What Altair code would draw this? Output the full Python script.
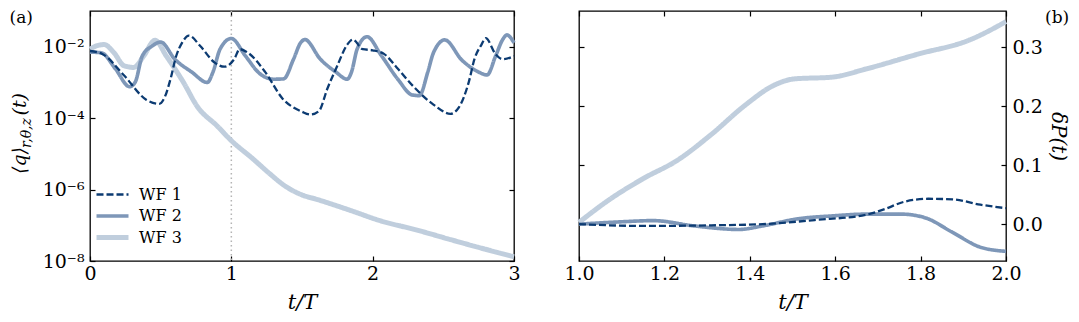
import altair as alt
import pandas as pd

FONT = "DejaVu Serif"
SERIES = ["WF 1", "WF 2", "WF 3"]
COLORS = ["#0c3b72", "#7e97b8", "#c0cedd"]
WIDTHS = [2.3, 5.0, 7.0]
DASHES = [[7, 3], [1, 0], [1, 0]]

# ---- panel (a): t/T and log10 <q>
wf1_t = [0.00, 0.09, 0.24, 0.40, 0.49, 0.53, 0.57, 0.61, 0.65, 0.70, 0.78, 0.88, 0.95, 1.02, 1.06, 1.11,
         1.24, 1.36, 1.50, 1.56, 1.62, 1.68, 1.75, 1.82, 1.86, 1.93, 2.00, 2.08, 2.17, 2.29, 2.43, 2.55,
         2.61, 2.68, 2.72, 2.77, 2.80, 2.87, 2.92, 3.00]
wf1_lq = [-2.12, -2.21, -2.80, -3.49, -3.60, -3.40, -2.90, -2.26, -1.90, -1.69, -1.98, -2.44, -2.56, -2.35, -2.07, -2.15,
          -2.71, -3.44, -3.82, -3.90, -3.80, -3.17, -2.53, -1.94, -1.80, -2.07, -2.10, -2.20, -2.58, -3.12, -3.62, -3.88,
          -3.70, -2.99, -2.35, -1.94, -1.76, -2.21, -2.35, -2.26]

wf2_t = [0.00, 0.08, 0.18, 0.28, 0.32, 0.37, 0.44, 0.50, 0.60, 0.72, 0.83, 0.87, 0.92, 1.00, 1.10, 1.20,
         1.30, 1.37, 1.44, 1.49, 1.52, 1.63, 1.74, 1.82, 1.85, 1.89, 1.96, 2.06, 2.18, 2.28, 2.33, 2.39,
         2.43, 2.51, 2.63, 2.75, 2.81, 2.87, 2.92, 2.95, 3.00]
wf2_lq = [-2.15, -2.17, -2.62, -3.12, -2.99, -2.26, -1.98, -1.87, -2.35, -2.71, -3.00, -2.71, -2.07, -1.77, -2.26, -2.75,
          -2.91, -2.90, -2.35, -1.89, -1.80, -2.35, -2.71, -2.91, -2.71, -2.07, -1.72, -2.24, -2.92, -3.35, -3.37, -2.71,
          -2.17, -1.81, -2.37, -2.71, -2.79, -2.26, -1.80, -1.67, -1.89]

wf3_t = [0.00, 0.05, 0.10, 0.17, 0.24, 0.31, 0.38, 0.46, 0.54, 0.66, 0.76, 0.90, 1.00, 1.15, 1.27, 1.38,
         1.50, 1.61, 1.84, 2.06, 2.30, 2.55, 2.75, 3.00]
wf3_lq = [-2.07, -1.97, -1.94, -2.17, -2.53, -2.58, -2.26, -1.82, -2.26, -2.99, -3.68, -4.22, -4.63, -5.13, -5.55, -5.90,
          -6.15, -6.28, -6.58, -6.88, -7.12, -7.40, -7.62, -7.88]

# ---- panel (b): t/T and delta P
wf1_tb = [1.00, 1.15, 1.31, 1.43, 1.552, 1.673, 1.714, 1.762, 1.818, 1.875, 1.94, 2.00]
wf1_dp = [0.000, -0.003, -0.002, 0.000, 0.007, 0.016, 0.025, 0.038, 0.043, 0.042, 0.033, 0.027]
wf2_tb = [1.00, 1.10, 1.174, 1.27, 1.375, 1.43, 1.512, 1.593, 1.673, 1.754, 1.81, 1.875, 1.94, 2.00]
wf2_dp = [0.000, 0.004, 0.006, -0.003, -0.009, -0.003, 0.009, 0.014, 0.017, 0.017, 0.011, -0.014, -0.039, -0.046]
wf3_tb = [1.00, 1.07, 1.15, 1.23, 1.31, 1.39, 1.456, 1.504, 1.593, 1.673, 1.794, 1.915, 2.00]
wf3_dp = [0.003, 0.041, 0.077, 0.108, 0.152, 0.202, 0.235, 0.246, 0.249, 0.263, 0.288, 0.312, 0.343]

rows_a, rows_b = [], []
for name, ts, ls in [("WF 3", wf3_t, wf3_lq), ("WF 2", wf2_t, wf2_lq), ("WF 1", wf1_t, wf1_lq)]:
    for i, (t, l) in enumerate(zip(ts, ls)):
        rows_a.append({"series": name, "t": t, "q": 10.0 ** l, "i": i})
for name, ts, vs in [("WF 3", wf3_tb, wf3_dp), ("WF 2", wf2_tb, wf2_dp), ("WF 1", wf1_tb, wf1_dp)]:
    for i, (t, v) in enumerate(zip(ts, vs)):
        rows_b.append({"series": name, "t": t, "dp": v, "i": i})
df_a = pd.DataFrame(rows_a)
df_b = pd.DataFrame(rows_b)

W1, W2, H = 424, 427, 250
TICK = 5
LBL = 19


def axis(orient, values, labels=True, **kw):
    return alt.Axis(orient=orient, values=values, tickSize=TICK, offset=-TICK, domain=False, grid=False,
                    labels=labels, labelFlush=False, ticks=True, tickColor="black", tickWidth=1.2,
                    labelFont=FONT, labelFontSize=LBL, labelColor="black", titleFont=FONT,
                    titleColor="black", titleFontWeight="normal", **kw)


legend = alt.Legend(title=None, orient="none", legendX=10, legendY=172, labelFont=FONT, labelFontSize=16,
                    labelColor="black", symbolType="M-1.6,0H1.6", symbolSize=400, rowPadding=1,
                    labelOffset=14, padding=0, symbolFillColor="transparent")
color = alt.Color("series:N", scale=alt.Scale(domain=SERIES, range=COLORS), legend=legend)
dash = alt.StrokeDash("series:N", scale=alt.Scale(domain=SERIES, range=DASHES), legend=legend)
swidth = alt.StrokeWidth("series:N", scale=alt.Scale(domain=SERIES, range=WIDTHS), legend=legend)


def text(txt, x, y, size, align="left", baseline="top", angle=0, style="normal"):
    return alt.Chart(pd.DataFrame({"k": [0]})).mark_text(
        text=txt, font=FONT, fontSize=size, align=align, baseline=baseline, angle=angle,
        fontStyle=style, color="black").encode(x=alt.value(x), y=alt.value(y))


xs_a = alt.Scale(domain=[0, 3], nice=False, zero=False)
ys_a = alt.Scale(type="log", domain=[1e-8, 1e-1], nice=False)
log_expr = ("'10' + (round(log(datum.value)/LN10) == -2 ? '⁻²' : round(log(datum.value)/LN10) == -4 ? '⁻⁴' : "
            "round(log(datum.value)/LN10) == -6 ? '⁻⁶' : '⁻⁸')")

lines_a = alt.Chart(df_a).mark_line(interpolate="monotone", strokeCap="butt").encode(
    x=alt.X("t:Q", scale=xs_a, title="t/T",
            axis=axis("bottom", [0, 1, 2, 3], format="d", labelPadding=3, titleFontSize=21,
                      titleFontStyle="italic", titlePadding=8)),
    y=alt.Y("q:Q", scale=ys_a, title=None,
            axis=axis("left", [1e-8, 1e-6, 1e-4, 1e-2], labelExpr=log_expr, labelPadding=6)),
    color=color, strokeDash=dash, strokeWidth=swidth, order="i:Q")

mirror_a = alt.Chart(df_a).mark_line(opacity=0).encode(
    x=alt.X("t:Q", scale=xs_a, title=None, axis=axis("top", [0, 1, 2, 3], labels=False)),
    y=alt.Y("q:Q", scale=ys_a, title=None, axis=axis("right", [1e-8, 1e-6, 1e-4, 1e-2], labels=False)),
    detail="series:N")

vline = alt.Chart(pd.DataFrame({"t": [1.0]})).mark_rule(color="#b4b4b4", strokeDash=[1.5, 3], strokeWidth=1.5).encode(
    x=alt.X("t:Q", scale=xs_a, axis=None))

left = alt.layer(
    vline, lines_a, mirror_a,
    text("(a)", -80.5, -1, 17),
    text("⟨q⟩", -64, 163, 19, baseline="alphabetic", angle=270, style="italic"),
    text("r,θ,z", -59, 122, 14, align="center", baseline="alphabetic", angle=270, style="italic"),
    text("(t)", -64, 82, 19, align="right", baseline="alphabetic", angle=270, style="italic"),
).resolve_axis(x="independent", y="independent").properties(width=W1, height=H)

xs_b = alt.Scale(domain=[1, 2], nice=False, zero=False)
ys_b = alt.Scale(domain=[-0.0624, 0.361], nice=False, zero=False)

lines_b = alt.Chart(df_b).mark_line(interpolate="monotone", strokeCap="butt").encode(
    x=alt.X("t:Q", scale=xs_b, title="t/T",
            axis=axis("bottom", [1.0, 1.2, 1.4, 1.6, 1.8, 2.0], format=".1f", labelPadding=3, titleFontSize=21,
                      titleFontStyle="italic", titlePadding=8)),
    y=alt.Y("dp:Q", scale=ys_b, title="δP(t)",
            axis=axis("right", [0.0, 0.1, 0.2, 0.3], format=".1f", labelPadding=6, titleFontSize=20,
                      titleFontStyle="italic", titleAngle=90, titlePadding=5)),
    color=alt.Color("series:N", scale=alt.Scale(domain=SERIES, range=COLORS), legend=None),
    strokeDash=alt.StrokeDash("series:N", scale=alt.Scale(domain=SERIES, range=DASHES), legend=None),
    strokeWidth=alt.StrokeWidth("series:N", scale=alt.Scale(domain=SERIES, range=WIDTHS), legend=None),
    order="i:Q")

mirror_b = alt.Chart(df_b).mark_line(opacity=0).encode(
    x=alt.X("t:Q", scale=xs_b, title=None, axis=axis("top", [1.0, 1.2, 1.4, 1.6, 1.8, 2.0], labels=False)),
    y=alt.Y("dp:Q", scale=ys_b, title=None, axis=axis("left", [0.0, 0.1, 0.2, 0.3], labels=False)),
    detail="series:N")

right = alt.layer(
    lines_b, mirror_b,
    text("(b)", 466, -1, 17),
).resolve_axis(x="independent", y="independent").properties(width=W2, height=H)

chart = alt.hconcat(left, right, spacing=38).resolve_scale(
    color="independent", strokeDash="independent", strokeWidth="independent"
).properties(padding=0).configure(font=FONT).configure_view(stroke="black", strokeWidth=1.3)

chart.save("out.html", embed_options={"renderer": "svg", "actions": False})
